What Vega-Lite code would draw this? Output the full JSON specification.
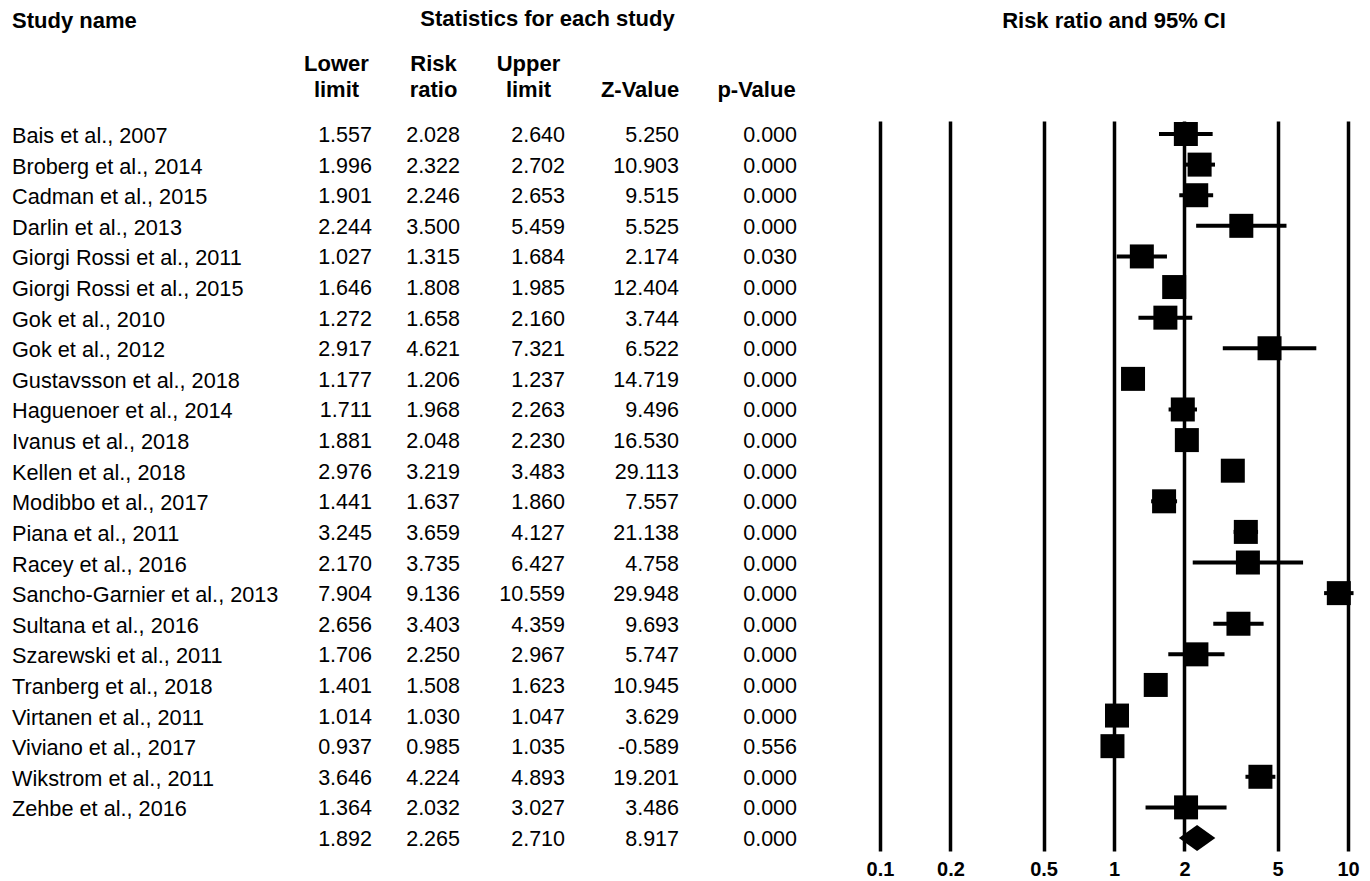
{
  "$schema": "https://vega.github.io/schema/vega-lite/v6.json",
  "padding": {"left": 12, "top": 8, "right": 5, "bottom": 5},
  "config": {
    "view": {"stroke": null},
    "font": "Liberation Sans",
    "locale": {"number": {"decimal": ".", "thousands": ",", "grouping": [3], "currency": ["$", ""], "minus": "-"}},
    "title": {"fontSize": 22, "fontWeight": "bold", "color": "#000000", "font": "Liberation Sans"}
  },
  "datasets": {
    "rows": [
      {"id": 1, "kind": "study", "study": "Bais et al., 2007", "lower": 1.557, "rr": 2.028, "upper": 2.640, "z": 5.250, "p": 0.000},
      {"id": 2, "kind": "study", "study": "Broberg et al., 2014", "lower": 1.996, "rr": 2.322, "upper": 2.702, "z": 10.903, "p": 0.000},
      {"id": 3, "kind": "study", "study": "Cadman et al., 2015", "lower": 1.901, "rr": 2.246, "upper": 2.653, "z": 9.515, "p": 0.000},
      {"id": 4, "kind": "study", "study": "Darlin et al., 2013", "lower": 2.244, "rr": 3.500, "upper": 5.459, "z": 5.525, "p": 0.000},
      {"id": 5, "kind": "study", "study": "Giorgi Rossi et al., 2011", "lower": 1.027, "rr": 1.315, "upper": 1.684, "z": 2.174, "p": 0.030},
      {"id": 6, "kind": "study", "study": "Giorgi Rossi et al., 2015", "lower": 1.646, "rr": 1.808, "upper": 1.985, "z": 12.404, "p": 0.000},
      {"id": 7, "kind": "study", "study": "Gok et al., 2010", "lower": 1.272, "rr": 1.658, "upper": 2.160, "z": 3.744, "p": 0.000},
      {"id": 8, "kind": "study", "study": "Gok et al., 2012", "lower": 2.917, "rr": 4.621, "upper": 7.321, "z": 6.522, "p": 0.000},
      {"id": 9, "kind": "study", "study": "Gustavsson et al., 2018", "lower": 1.177, "rr": 1.206, "upper": 1.237, "z": 14.719, "p": 0.000},
      {"id": 10, "kind": "study", "study": "Haguenoer et al., 2014", "lower": 1.711, "rr": 1.968, "upper": 2.263, "z": 9.496, "p": 0.000},
      {"id": 11, "kind": "study", "study": "Ivanus et al., 2018", "lower": 1.881, "rr": 2.048, "upper": 2.230, "z": 16.530, "p": 0.000},
      {"id": 12, "kind": "study", "study": "Kellen et al., 2018", "lower": 2.976, "rr": 3.219, "upper": 3.483, "z": 29.113, "p": 0.000},
      {"id": 13, "kind": "study", "study": "Modibbo et al., 2017", "lower": 1.441, "rr": 1.637, "upper": 1.860, "z": 7.557, "p": 0.000},
      {"id": 14, "kind": "study", "study": "Piana et al.,  2011", "lower": 3.245, "rr": 3.659, "upper": 4.127, "z": 21.138, "p": 0.000},
      {"id": 15, "kind": "study", "study": "Racey et al., 2016", "lower": 2.170, "rr": 3.735, "upper": 6.427, "z": 4.758, "p": 0.000},
      {"id": 16, "kind": "study", "study": "Sancho-Garnier et al., 2013", "lower": 7.904, "rr": 9.136, "upper": 10.559, "z": 29.948, "p": 0.000},
      {"id": 17, "kind": "study", "study": "Sultana et al., 2016", "lower": 2.656, "rr": 3.403, "upper": 4.359, "z": 9.693, "p": 0.000},
      {"id": 18, "kind": "study", "study": "Szarewski et al., 2011", "lower": 1.706, "rr": 2.250, "upper": 2.967, "z": 5.747, "p": 0.000},
      {"id": 19, "kind": "study", "study": "Tranberg et al., 2018", "lower": 1.401, "rr": 1.508, "upper": 1.623, "z": 10.945, "p": 0.000},
      {"id": 20, "kind": "study", "study": "Virtanen et al., 2011", "lower": 1.014, "rr": 1.030, "upper": 1.047, "z": 3.629, "p": 0.000},
      {"id": 21, "kind": "study", "study": "Viviano et al., 2017", "lower": 0.937, "rr": 0.985, "upper": 1.035, "z": -0.589, "p": 0.556},
      {"id": 22, "kind": "study", "study": "Wikstrom et al., 2011", "lower": 3.646, "rr": 4.224, "upper": 4.893, "z": 19.201, "p": 0.000},
      {"id": 23, "kind": "study", "study": "Zehbe et al., 2016", "lower": 1.364, "rr": 2.032, "upper": 3.027, "z": 3.486, "p": 0.000},
      {"id": 24, "kind": "summary", "study": "", "lower": 1.892, "rr": 2.265, "upper": 2.710, "z": 8.917, "p": 0.000}
    ]
  },
  "hconcat": [
    {
      "spacing": 0,
      "bounds": "flush",
      "hconcat": [
        {
          "width": 270,
          "height": 730,
          "title": {"text": "Study name", "anchor": "start", "frame": "group", "offset": 71, "baseline": "alphabetic"},
          "data": {"name": "rows"},
          "mark": {"type": "text", "align": "left", "baseline": "middle", "dy": 2, "fontSize": 21.7, "color": "#000000"},
          "encoding": {
            "y": {"field": "id", "type": "ordinal", "scale": {"type": "point", "padding": 0.425}, "axis": null},
            "x": {"datum": "Study name", "type": "nominal", "bandPosition": 0, "scale": {"type": "band", "paddingInner": 0, "paddingOuter": 0}, "axis": null},
            "text": {"field": "study", "type": "nominal"}
          }
        },
        {
          "title": {"text": "Statistics for each study", "anchor": "middle", "offset": 4, "baseline": "alphabetic"},
          "spacing": 0,
          "bounds": "flush",
          "hconcat": [
            {
              "width": 108, "height": 730,
              "data": {"name": "rows"},
              "mark": {"type": "text", "align": "right", "baseline": "middle", "dy": 2, "fontSize": 21.5, "color": "#000000"},
              "encoding": {
                "y": {"field": "id", "type": "ordinal", "scale": {"type": "point", "padding": 0.425}, "axis": null},
                "x": {"datum": "Lower limit", "type": "nominal", "bandPosition": 0.833, "scale": {"type": "band", "paddingInner": 0, "paddingOuter": 0},
                      "axis": {"orient": "top", "title": ["Lower", "limit"], "labels": false, "ticks": false, "domain": false, "grid": false, "titleFontSize": 22, "titleFontWeight": "bold", "titleColor": "#000000", "titlePadding": 20, "titleLineHeight": 26}},
                "text": {"field": "lower", "type": "quantitative", "format": ".3f"}
              }
            },
            {
              "width": 86, "height": 730,
              "data": {"name": "rows"},
              "mark": {"type": "text", "align": "right", "baseline": "middle", "dy": 2, "fontSize": 21.5, "color": "#000000"},
              "encoding": {
                "y": {"field": "id", "type": "ordinal", "scale": {"type": "point", "padding": 0.425}, "axis": null},
                "x": {"datum": "Risk ratio", "type": "nominal", "bandPosition": 0.814, "scale": {"type": "band", "paddingInner": 0, "paddingOuter": 0},
                      "axis": {"orient": "top", "title": ["Risk", "ratio"], "labels": false, "ticks": false, "domain": false, "grid": false, "titleFontSize": 22, "titleFontWeight": "bold", "titleColor": "#000000", "titlePadding": 20, "titleLineHeight": 26}},
                "text": {"field": "rr", "type": "quantitative", "format": ".3f"}
              }
            },
            {
              "width": 104, "height": 730,
              "data": {"name": "rows"},
              "mark": {"type": "text", "align": "right", "baseline": "middle", "dy": 2, "fontSize": 21.5, "color": "#000000"},
              "encoding": {
                "y": {"field": "id", "type": "ordinal", "scale": {"type": "point", "padding": 0.425}, "axis": null},
                "x": {"datum": "Upper limit", "type": "nominal", "bandPosition": 0.856, "scale": {"type": "band", "paddingInner": 0, "paddingOuter": 0},
                      "axis": {"orient": "top", "title": ["Upper", "limit"], "labels": false, "ticks": false, "domain": false, "grid": false, "titleFontSize": 22, "titleFontWeight": "bold", "titleColor": "#000000", "titlePadding": 20, "titleLineHeight": 26}},
                "text": {"field": "upper", "type": "quantitative", "format": ".3f"}
              }
            },
            {
              "width": 119, "height": 730,
              "data": {"name": "rows"},
              "mark": {"type": "text", "align": "right", "baseline": "middle", "dy": 2, "fontSize": 21.5, "color": "#000000"},
              "encoding": {
                "y": {"field": "id", "type": "ordinal", "scale": {"type": "point", "padding": 0.425}, "axis": null},
                "x": {"datum": "Z-Value", "type": "nominal", "bandPosition": 0.832, "scale": {"type": "band", "paddingInner": 0, "paddingOuter": 0},
                      "axis": {"orient": "top", "title": "Z-Value", "labels": false, "ticks": false, "domain": false, "grid": false, "titleFontSize": 22, "titleFontWeight": "bold", "titleColor": "#000000", "titlePadding": 20, "titleLineHeight": 26}},
                "text": {"field": "z", "type": "quantitative", "format": ".3f"}
              }
            },
            {
              "width": 114, "height": 730,
              "data": {"name": "rows"},
              "mark": {"type": "text", "align": "right", "baseline": "middle", "dy": 2, "fontSize": 21.5, "color": "#000000"},
              "encoding": {
                "y": {"field": "id", "type": "ordinal", "scale": {"type": "point", "padding": 0.425}, "axis": null},
                "x": {"datum": "p-Value", "type": "nominal", "bandPosition": 0.86, "scale": {"type": "band", "paddingInner": 0, "paddingOuter": 0},
                      "axis": {"orient": "top", "title": "p-Value", "labels": false, "ticks": false, "domain": false, "grid": false, "titleFontSize": 22, "titleFontWeight": "bold", "titleColor": "#000000", "titlePadding": 20, "titleLineHeight": 26}},
                "text": {"field": "p", "type": "quantitative", "format": ".3f"}
              }
            }
          ]
        }
      ]
    },
    {
      "width": 468,
      "height": 730,
      "title": {"text": "Risk ratio and 95% CI", "anchor": "middle", "frame": "group", "offset": 71, "baseline": "alphabetic"},
      "data": {"name": "rows"},
      "encoding": {
        "y": {"field": "id", "type": "ordinal", "scale": {"type": "point", "padding": 0.425}, "axis": null}
      },
      "layer": [
        {
          "transform": [{"filter": "datum.kind === 'study'"}],
          "mark": {"type": "rule", "strokeWidth": 4, "color": "#000000"},
          "encoding": {
            "x": {"field": "lower", "type": "quantitative", "scale": {"type": "log", "domain": [0.1, 10], "nice": false},
                  "axis": {"orient": "bottom", "values": [0.1, 0.2, 0.5, 1, 2, 5, 10], "format": "~g", "title": null, "grid": true, "gridColor": "#000000", "gridWidth": 3.5, "gridOpacity": 1, "domain": false, "ticks": false, "labelFontSize": 20, "labelFontWeight": "bold", "labelColor": "#000000", "labelPadding": 8, "labelFlush": false, "labelOverlap": false, "labelBound": false}},
            "x2": {"field": "upper"}
          }
        },
        {
          "transform": [{"filter": "datum.kind === 'study'"}],
          "mark": {"type": "point", "shape": "square", "filled": true, "size": 576, "color": "#000000", "opacity": 1},
          "encoding": {"x": {"field": "rr", "type": "quantitative"}}
        },
        {
          "transform": [{"filter": "datum.kind === 'summary'"}],
          "mark": {"type": "point", "shape": "M-1,0L0,-0.71L1,0L0,0.71Z", "filled": true, "size": 1332, "color": "#000000", "opacity": 1},
          "encoding": {"x": {"field": "rr", "type": "quantitative"}}
        }
      ]
    }
  ],
  "spacing": 53,
  "bounds": "full"
}
